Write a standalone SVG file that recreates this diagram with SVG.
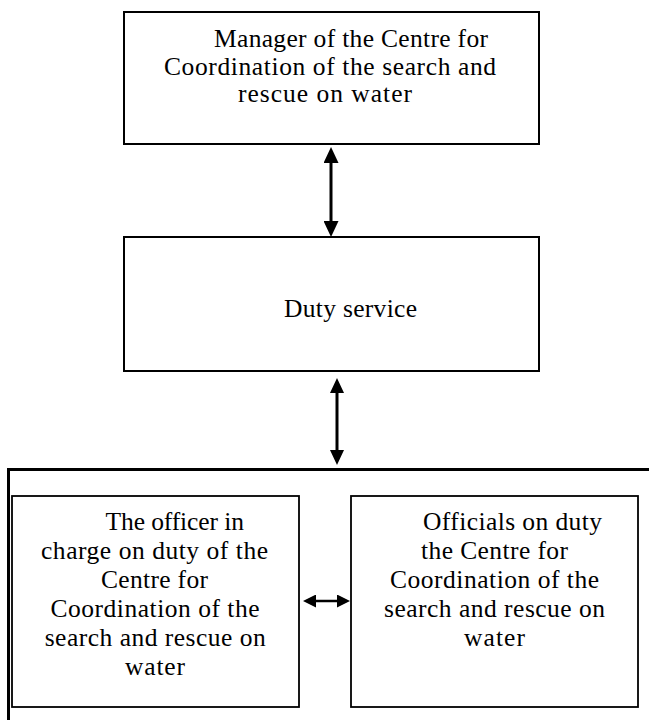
<svg xmlns="http://www.w3.org/2000/svg" width="649" height="720" viewBox="0 0 649 720">
<style>
.box{fill:#fff;stroke:#000;stroke-width:2}
.inner{fill:#fff;stroke:#000;stroke-width:1.8}
.outer{fill:none;stroke:#000;stroke-width:3}
.t{font-family:"Liberation Serif","Times New Roman",serif;font-size:25.5px;fill:#000}
.c{stroke:#000;fill:none}
</style>
<defs>
<marker id="hv" markerUnits="userSpaceOnUse" markerWidth="16" markerHeight="15" refX="0" refY="7.5" orient="auto-start-reverse"><path d="M0,0 L16,7.5 L0,15 z" fill="#000"/></marker>
<marker id="hv2" markerUnits="userSpaceOnUse" markerWidth="15" markerHeight="14" refX="0" refY="7" orient="auto-start-reverse"><path d="M0,0 L15,7 L0,14 z" fill="#000"/></marker>
<marker id="hh" markerUnits="userSpaceOnUse" markerWidth="13" markerHeight="13" refX="0" refY="6.5" orient="auto-start-reverse"><path d="M0,0 L13,6.5 L0,13 z" fill="#000"/></marker>
</defs>
<rect width="649" height="720" fill="#fff"/>
<g id="group-outer">
<rect class="outer" x="8.5" y="469.5" width="700" height="300"/>
</g>
<g id="node-manager">
<rect class="box" x="124" y="12" width="415" height="132"/>
<text class="t" x="214" y="47" textLength="274" lengthAdjust="spacing">Manager of the Centre for</text>
<text class="t" x="164" y="74.5" textLength="332" lengthAdjust="spacing">Coordination of the search and</text>
<text class="t" x="238" y="102" textLength="174" lengthAdjust="spacing">rescue on water</text>
</g>
<g id="node-duty">
<rect class="box" x="124" y="237" width="415" height="134"/>
<text class="t" x="284" y="317" textLength="133" lengthAdjust="spacing">Duty service</text>
</g>
<g id="node-officer">
<rect class="inner" x="12" y="496" width="287" height="211"/>
<text class="t" x="105.5" y="530" textLength="138.5" lengthAdjust="spacing">The officer in</text>
<text class="t" x="41" y="558.5" textLength="227" lengthAdjust="spacing">charge on duty of the</text>
<text class="t" x="101" y="587.5" textLength="107" lengthAdjust="spacing">Centre for</text>
<text class="t" x="50.5" y="617" textLength="209" lengthAdjust="spacing">Coordination of the</text>
<text class="t" x="44.7" y="646" textLength="221" lengthAdjust="spacing">search and rescue on</text>
<text class="t" x="125" y="674.5" textLength="60" lengthAdjust="spacing">water</text>
</g>
<g id="node-officials">
<rect class="inner" x="351" y="496" width="287" height="211"/>
<text class="t" x="423" y="530" textLength="179" lengthAdjust="spacing">Officials on duty</text>
<text class="t" x="421" y="558.5" textLength="147" lengthAdjust="spacing">the Centre for</text>
<text class="t" x="390" y="587.5" textLength="209" lengthAdjust="spacing">Coordination of the</text>
<text class="t" x="384" y="617" textLength="221" lengthAdjust="spacing">search and rescue on</text>
<text class="t" x="464" y="646" textLength="61" lengthAdjust="spacing">water</text>
</g>
<g id="connectors">
<line class="c" x1="331" y1="163" x2="331" y2="221" stroke-width="3" marker-start="url(#hv)" marker-end="url(#hv)"/>
<line class="c" x1="337" y1="393" x2="337" y2="450" stroke-width="3" marker-start="url(#hv2)" marker-end="url(#hv2)"/>
<line class="c" x1="316" y1="601" x2="337" y2="601" stroke-width="2.5" marker-start="url(#hh)" marker-end="url(#hh)"/>
</g>
</svg>
